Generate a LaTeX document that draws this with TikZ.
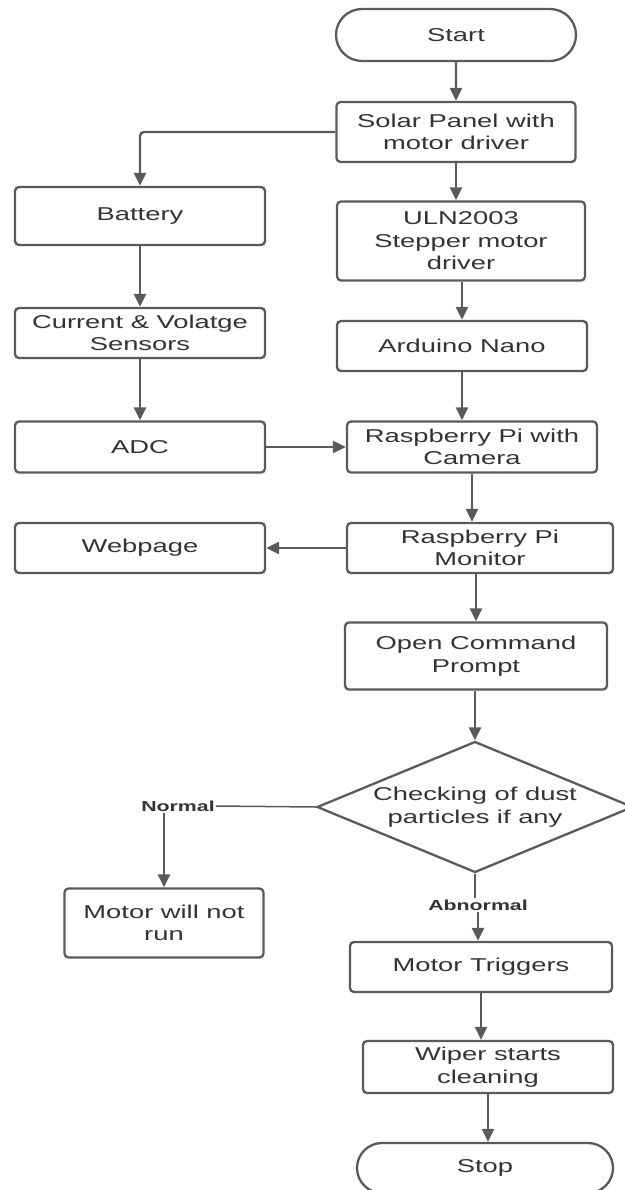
\documentclass[tikz,border=0pt]{standalone}
\usepackage{fontspec}
\setmainfont{Liberation Sans}[FakeStretch=1.47]
\usetikzlibrary{shapes.geometric,shapes.misc,arrows.meta}
\definecolor{linegray}{HTML}{5A5A5A}
\definecolor{textgray}{HTML}{333333}

\begin{document}
\begin{tikzpicture}[x=1pt,y=-1pt,
    box/.style={draw=linegray, line width=2.3pt, rounded corners=4pt, align=center,
        inner sep=0pt, text=textgray, font=\fontsize{18.6}{22.5}\selectfont},
    term/.style={draw=linegray, line width=2.3pt, rounded rectangle, align=center,
        inner sep=0pt, text=textgray, font=\fontsize{18.6}{22.5}\selectfont},
    decision/.style={draw=linegray, line width=2.3pt, diamond, aspect=2.4, align=center,
        inner sep=0pt, minimum width=316pt, minimum height=131pt, text=textgray,
        font=\fontsize{18.6}{22.5}\selectfont},
    branchtext/.style={inner sep=1pt, text=textgray, font=\fontsize{14.5}{16}\selectfont\bfseries},
    flow/.style={draw=linegray, line width=2.3pt},
    arr/.style={flow, -{Triangle[width=12pt,length=13pt]}}]

    \useasboundingbox (0,0) rectangle (624,1190);

    % Main column
    \node[term, minimum width=240pt, minimum height=52pt] (start) at (456,35) {Start};
    \node[box, minimum width=239pt, minimum height=60pt] (solar) at (456,132) {Solar Panel with\\motor driver};
    \node[box, minimum width=248pt, minimum height=79pt] (uln) at (461,241) {ULN2003\\Stepper motor\\driver};
    \node[box, minimum width=250pt, minimum height=50pt] (arduino) at (462,346) {Arduino Nano};
    \node[box, minimum width=250pt, minimum height=51pt] (rpicam) at (472,447) {Raspberry Pi with\\Camera};
    \node[box, minimum width=266pt, minimum height=50pt] (monitor) at (480,548) {Raspberry Pi\\Monitor};
    \node[box, minimum width=262pt, minimum height=67pt] (prompt) at (476,656) {Open Command\\Prompt};
    \node[decision] (check) at (475,807) {Checking of dust\\particles if any};
    \node[branchtext] (abnormal) at (478,905) {Abnormal};
    \node[box, minimum width=262pt, minimum height=50pt] (trigger) at (481,967) {Motor Triggers};
    \node[box, minimum width=250pt, minimum height=52pt] (wiper) at (488,1067) {Wiper starts\\cleaning};
    \node[term, minimum width=256pt, minimum height=50pt] (stop) at (485,1168) {Stop};

    % Side column
    \node[box, minimum width=250pt, minimum height=58pt] (battery) at (140,216) {Battery};
    \node[box, minimum width=250pt, minimum height=50pt] (sensors) at (140,333) {Current \& Volatge\\Sensors};
    \node[box, minimum width=250pt, minimum height=51pt] (adc) at (140,447) {ADC};
    \node[box, minimum width=250pt, minimum height=50pt] (webpage) at (140,548) {Webpage};
    \node[branchtext] (normal) at (178,806) {Normal};
    \node[box, minimum width=199pt, minimum height=69pt] (notrun) at (164,923) {Motor will not\\run};

    % Connectors
    \draw[arr] (start) -- (solar);
    \draw[arr] (solar.south) -- (solar.south |- uln.north);
    \draw[arr] (arduino.north |- uln.south) -- (arduino.north);
    \draw[arr] (arduino.south) -- (arduino.south |- rpicam.north);
    \draw[arr] (rpicam.south) -- (rpicam.south |- monitor.north);
    \draw[arr] (prompt.north |- monitor.south) -- (prompt.north);
    \draw[arr] (prompt.south -| check.north) -- (check.north);
    \draw[arr, rounded corners=4pt] (solar.west) -| (battery.north);
    \draw[arr] (battery) -- (sensors);
    \draw[arr] (sensors) -- (adc);
    \draw[arr] (adc.east) -- (adc.east -| rpicam.west);
    \draw[arr] (monitor.west) -- (webpage.east);

    % Decision branches
    \draw[flow, line width=1.5pt] (check.west) -- (normal.east);
    \draw[arr] (normal.south -| notrun.north) -- (notrun.north);
    \draw[flow] (check.south) -- (abnormal.north -| check.south);
    \draw[arr] (abnormal.south) -- (abnormal.south |- trigger.north);
    \draw[arr] (trigger.south) -- (trigger.south |- wiper.north);
    \draw[arr] (wiper.south) -- (wiper.south |- stop.north);

\end{tikzpicture}
\end{document}
